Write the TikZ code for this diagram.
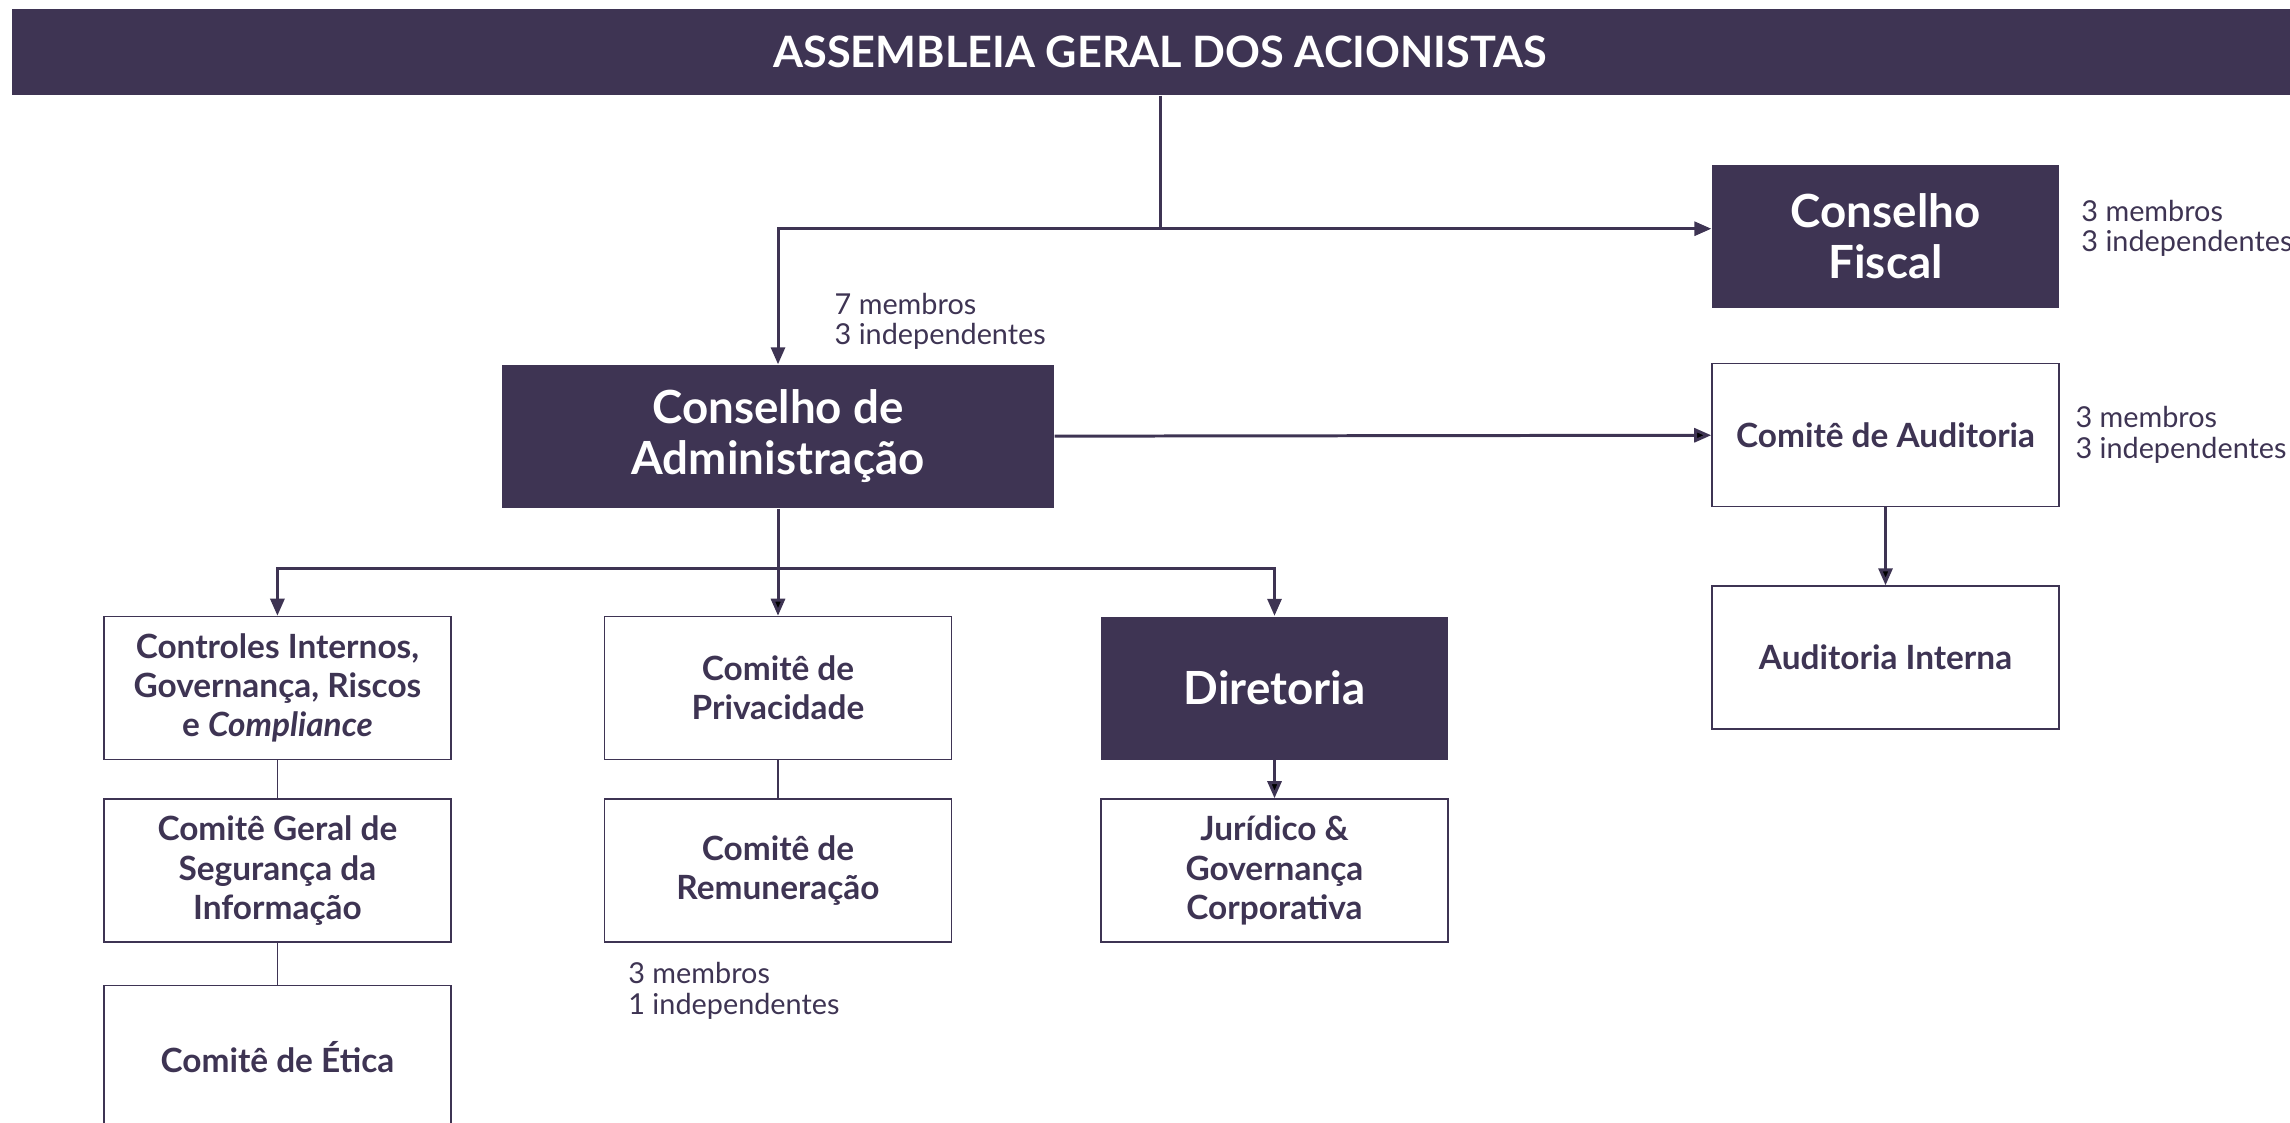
\documentclass[tikz,border=0pt]{standalone}
\usepackage{fontspec}
\setmainfont{Lato}
\usetikzlibrary{positioning,arrows.meta}
\definecolor{govpurple}{HTML}{3E3453}

\begin{document}
\begin{tikzpicture}[>={Triangle[length=0.17cm,width=0.14cm]},
  darkbox/.style={rectangle,fill=govpurple,text=white,inner sep=0pt,font=\bfseries\fontsize{13}{14.5}\selectfont,align=center,minimum width=3.47cm,minimum height=1.43cm},
  whitebox/.style={rectangle,draw=govpurple,line width=0.45pt,fill=white,text=govpurple,inner sep=0pt,font=\bfseries\fontsize{9.5}{11.2}\selectfont,align=center,minimum width=3.47cm,minimum height=1.43cm},
  info/.style={inner sep=0pt,text=govpurple,font=\fontsize{8.2}{8.7}\selectfont,align=left},
  conn/.style={draw=govpurple,line width=0.85pt},
  link/.style={draw=govpurple,line width=0.45pt}]

\useasboundingbox (0,0) rectangle (22.9,-11.22);

% assembleia no topo
\node[darkbox, minimum width=22.96cm, minimum height=0.86cm, font=\bfseries\fontsize{12.3}{13}\selectfont] (agm) at (11.6,-0.52) {ASSEMBLEIA GERAL DOS ACIONISTAS};

% conselhos
\node[darkbox, minimum width=5.52cm] (admin) at (7.78,-4.365) {Conselho de\\Administração};
\node[darkbox] (fiscal) at (18.855,-2.365) {Conselho\\Fiscal};
\node[whitebox] (audit) [below=0.54cm of fiscal] {Comitê de Auditoria};
\node[whitebox] (intaud) [below=0.78cm of audit] {Auditoria Interna};

% comites abaixo do conselho
\node[whitebox] (priv) [below=1.07cm of admin] {Comitê de\\Privacidade};
\node[whitebox] (ctrl) [left=1.52cm of priv] {Controles Internos,\\Governança, Riscos\\e \textit{Compliance}};
\node[darkbox] (dir) [right=1.48cm of priv] {Diretoria};
\node[whitebox] (rem) [below=0.38cm of priv] {Comitê de\\Remuneração};
\node[whitebox] (seg) [below=0.38cm of ctrl] {Comitê Geral de\\Segurança da\\Informação};
\node[whitebox] (etica) [below=0.42cm of seg] {Comitê de Ética};
\node[whitebox] (jur) [below=0.38cm of dir] {Jurídico \&\\Governança\\Corporativa};

% membros
\node[info, anchor=west] (admininfo) at ([xshift=0.56cm, yshift=0.43cm]admin.north) {7 membros\\3 independentes};
\node[info] (fiscalinfo) [right=0.21cm of fiscal, yshift=0.08cm] {3 membros\\3 independentes};
\node[info] (auditinfo) [right=0.15cm of audit] {3 membros\\3 independentes};
\node[info, anchor=north west] (reminfo) at ([xshift=0.24cm, yshift=-0.19cm]rem.south west) {3 membros\\1 independentes};

\coordinate (topsplit) at ([yshift=-1.33cm]agm.south);
\coordinate (lowsplit) at ([yshift=-0.6cm]admin.south);

\draw[conn] (agm.south) -- (topsplit);
\draw[conn,->] (topsplit) -| (admin.north);
\draw[conn,->] (topsplit) -- (topsplit -| fiscal.west);
\draw[conn] (admin.south) -- (lowsplit);
\draw[conn,->] (lowsplit) -| (ctrl.north);
\draw[conn,->] (lowsplit) -| (dir.north);

\path[conn]
    (admin) edge[->] (audit)
    (lowsplit) edge[->] (priv)
    (audit) edge[->] (intaud)
    (dir) edge[->] (jur)
    ;
\path[link]
    (ctrl) edge (seg)
    (seg) edge (etica)
    (priv) edge (rem)
    ;
\end{tikzpicture}
\end{document}
